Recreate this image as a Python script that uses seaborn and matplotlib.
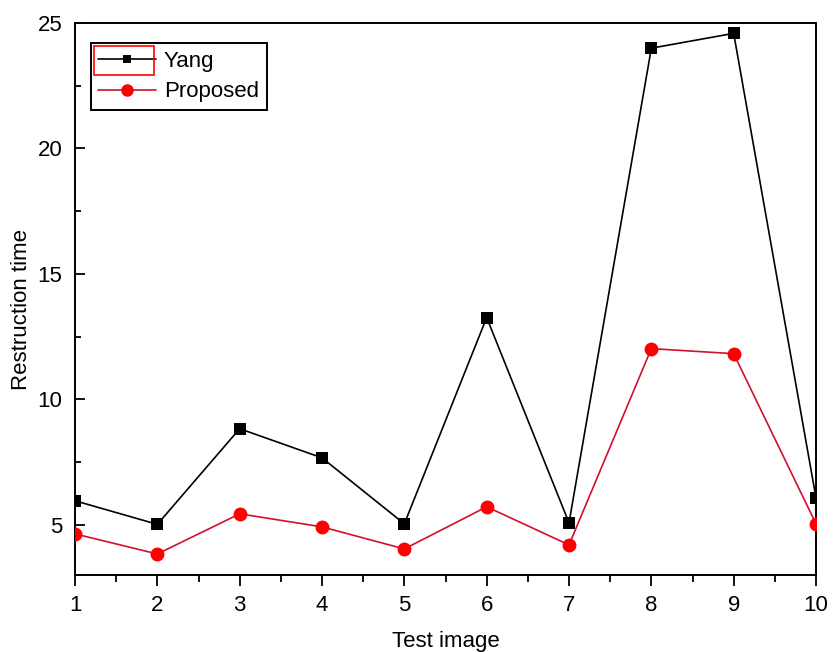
import numpy as np
import pandas as pd
import matplotlib
matplotlib.use("Agg")
import matplotlib.pyplot as plt
from matplotlib.lines import Line2D
from matplotlib.patches import Rectangle
from matplotlib.ticker import MultipleLocator
import seaborn as sns

# ---------------------------------------------------
# Data
# ---------------------------------------------------

test_image = [1, 2, 3, 4, 5, 6, 7, 8, 9, 10]

yang_time = [5.96, 5.02, 8.83, 7.67, 5.04, 13.26, 5.08, 23.99, 24.58, 6.07]

proposed_time = [4.64, 3.84, 5.44, 4.92, 4.04, 5.72, 4.20, 12.02, 11.82, 5.04]

x_ticks = [1, 2, 3, 4, 5, 6, 7, 8, 9, 10]
y_ticks = [5, 10, 15, 20, 25]

red_line = "#d0102c"

# ---------------------------------------------------
# Style
# ---------------------------------------------------

sns.set_style("ticks")
plt.rcParams["font.family"] = ["Liberation Sans", "DejaVu Sans"]
plt.rcParams["text.color"] = "black"
plt.rcParams["axes.labelcolor"] = "black"
plt.rcParams["xtick.color"] = "black"
plt.rcParams["ytick.color"] = "black"

fig = plt.figure(figsize=(8.39, 6.52), dpi=100)
ax = fig.add_axes([0.0894, 0.118, 0.8832, 0.847])

df = pd.DataFrame({
    "Test image": test_image,
    "Yang": yang_time,
    "Proposed": proposed_time,
})

sns.lineplot(
    data=df, x="Test image", y="Yang", ax=ax,
    color="black", linewidth=1.2,
    marker="s", markersize=9, markeredgewidth=0,
    markerfacecolor="black", zorder=3
)

sns.lineplot(
    data=df, x="Test image", y="Proposed", ax=ax,
    color=red_line, linewidth=1.2,
    marker="o", markersize=10, markeredgewidth=0,
    markerfacecolor="red", zorder=3
)

# ---------------------------------------------------
# Axes
# ---------------------------------------------------

ax.set_xlim(1, 10)
ax.set_ylim(3, 25)

ax.set_xticks(x_ticks)
ax.set_yticks(y_ticks)
ax.xaxis.set_minor_locator(MultipleLocator(0.5))
ax.yaxis.set_minor_locator(MultipleLocator(2.5))

ax.tick_params(axis="x", which="major", direction="out", length=8, width=1.3,
               labelsize=16, pad=6, top=False)
ax.tick_params(axis="x", which="minor", direction="out", length=5, width=1.3, top=False)
ax.tick_params(axis="y", which="major", direction="in", length=7, width=1.3,
               labelsize=16, pad=9, right=False)
ax.tick_params(axis="y", which="minor", direction="in", length=4, width=1.3, right=False)

for side in ["left", "right", "top", "bottom"]:
    ax.spines[side].set_visible(True)
    ax.spines[side].set_linewidth(1.4)
    ax.spines[side].set_color("black")

ax.set_xlabel("Test image", fontsize=16, labelpad=11)
ax.set_ylabel("Restruction time", fontsize=16)
ax.yaxis.set_label_coords(-0.058, 0.48)

# ---------------------------------------------------
# Legend
# ---------------------------------------------------

handles = [
    Line2D([], [], color="black", linewidth=1.2, marker="s",
           markersize=6, markeredgewidth=0, markerfacecolor="black"),
    Line2D([], [], color=red_line, linewidth=1.2, marker="o",
           markersize=9, markeredgewidth=0, markerfacecolor="red"),
]

leg = ax.legend(
    handles, ["Yang", "Proposed"],
    loc="upper left", bbox_to_anchor=(0.021, 0.963),
    fontsize=16, frameon=True, fancybox=False, framealpha=1,
    handlelength=2.6, handletextpad=0.35,
    labelspacing=0.42, borderpad=0.35, borderaxespad=0
)
leg.get_frame().set_edgecolor("black")
leg.get_frame().set_linewidth(1.4)

# selection box around the first legend handle
ax.add_patch(Rectangle(
    (0.026, 0.906), 0.081, 0.052,
    transform=ax.transAxes, fill=False,
    edgecolor="red", linewidth=1.2, zorder=10
))

plt.savefig("out.png", dpi=100)
plt.close()
